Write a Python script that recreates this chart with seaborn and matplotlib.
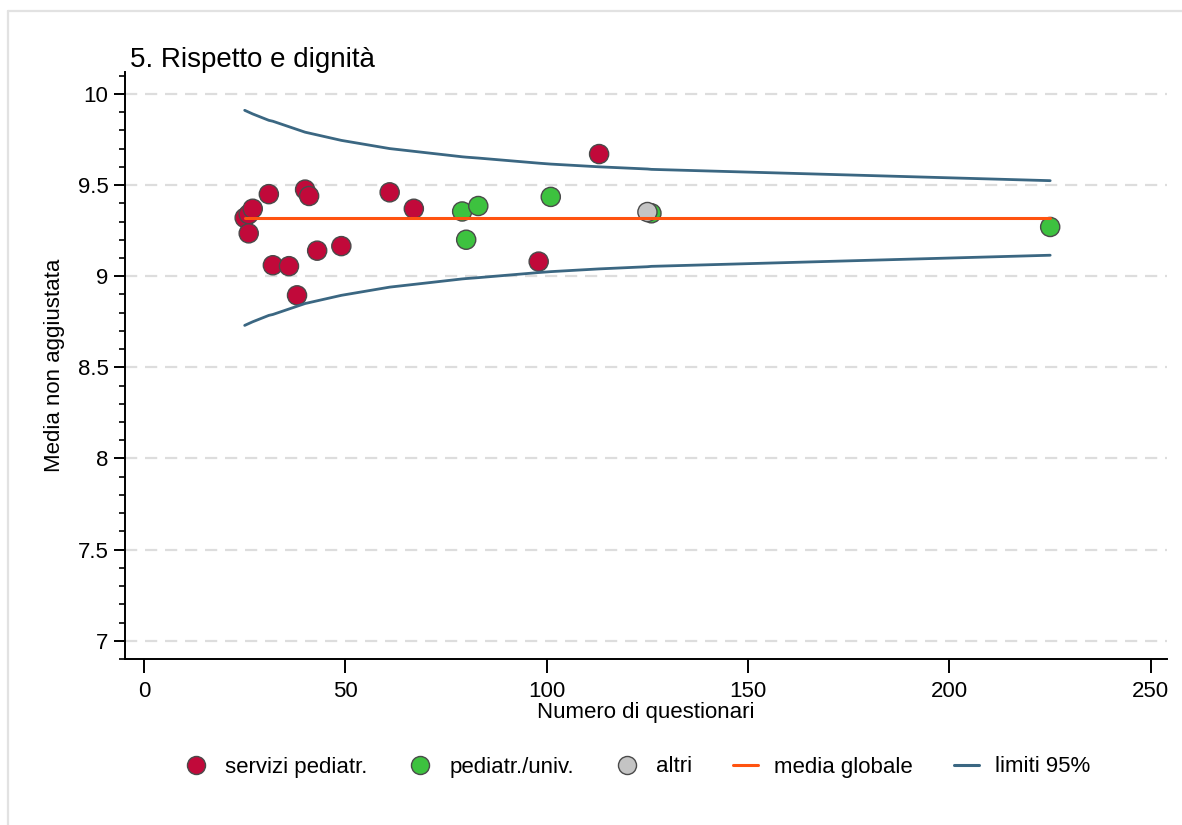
import matplotlib
matplotlib.use("Agg")
import matplotlib.pyplot as plt
from matplotlib.lines import Line2D
import numpy as np
import pandas as pd
import seaborn as sns

# --- data -----------------------------------------------------------------
servizi_n = [25, 26, 26, 27, 31, 32, 36, 38, 40, 41, 43, 49, 61, 67, 98, 113]
servizi_y = [9.32, 9.34, 9.235, 9.37, 9.45, 9.06, 9.055, 8.895, 9.475, 9.44,
             9.14, 9.165, 9.46, 9.37, 9.08, 9.67]
univ_n = [79, 80, 83, 101, 126, 225]
univ_y = [9.355, 9.20, 9.385, 9.435, 9.345, 9.27]
altri_n = [125]
altri_y = [9.352]

media_globale = 9.32

limiti_n = [25, 26, 27, 31, 32, 36, 38, 40, 41, 43, 49, 61, 67, 79, 80, 83,
            98, 101, 113, 125, 126, 225]
limite_sup = [9.91, 9.90, 9.89, 9.855, 9.85, 9.82, 9.805, 9.79, 9.785, 9.775,
              9.745, 9.70, 9.685, 9.655, 9.653, 9.648, 9.62, 9.615, 9.60,
              9.588, 9.586, 9.524]
limite_inf = [8.73, 8.74, 8.75, 8.785, 8.79, 8.82, 8.835, 8.85, 8.855, 8.865,
              8.895, 8.94, 8.955, 8.985, 8.987, 8.992, 9.02, 9.025, 9.04,
              9.052, 9.054, 9.115]

gruppi = ["servizi pediatr.", "pediatr./univ.", "altri"]
colori = {"servizi pediatr.": "#C1093A", "pediatr./univ.": "#3DC23F",
          "altri": "#C4C4C4"}
col_media = "#FF5310"
col_limiti = "#3B6782"

punti = pd.DataFrame({
    "n": servizi_n + univ_n + altri_n,
    "media": servizi_y + univ_y + altri_y,
    "gruppo": [gruppi[0]] * len(servizi_n) + [gruppi[1]] * len(univ_n)
              + [gruppi[2]] * len(altri_n),
})
limiti = pd.DataFrame({"n": limiti_n, "sup": limite_sup, "inf": limite_inf})
media = pd.DataFrame({"n": [min(limiti_n), max(limiti_n)],
                      "media": [media_globale, media_globale]})

# --- figure ---------------------------------------------------------------
sns.set_theme(style="white")
plt.rcParams["font.family"] = ["Liberation Sans", "DejaVu Sans"]
plt.rcParams["text.color"] = "black"
plt.rcParams["axes.labelcolor"] = "black"
plt.rcParams["xtick.color"] = "black"
plt.rcParams["ytick.color"] = "black"

fig = plt.figure(figsize=(11.82, 8.25), dpi=100)
fig.patch.set_facecolor("white")
ax = fig.add_axes([0.1058, 0.2012, 0.8815, 0.7115])

# light frame around the graph region
fig.add_artist(Line2D([8 / 1182, 1.0], [1 - 10.5 / 825] * 2,
                      transform=fig.transFigure, color="#E2E2E2", lw=1.6))
fig.add_artist(Line2D([8 / 1182] * 2, [0.0, 1 - 10.5 / 825],
                      transform=fig.transFigure, color="#E2E2E2", lw=1.6))

for yv in np.arange(7.0, 10.01, 0.5):
    ax.axhline(yv, color="#DDDDDD", lw=1.6, ls=(0, (5.5, 3.5)), zorder=0)

sns.scatterplot(data=punti, x="n", y="media", hue="gruppo",
                hue_order=gruppi, palette=colori, s=190,
                edgecolor="#4A4A4A", linewidth=1.0, legend=False,
                ax=ax, zorder=2)

sns.lineplot(data=limiti, x="n", y="sup", color=col_limiti, lw=2.0,
             ax=ax, zorder=3)
sns.lineplot(data=limiti, x="n", y="inf", color=col_limiti, lw=2.0,
             ax=ax, zorder=3)
sns.lineplot(data=media, x="n", y="media", color=col_media, lw=2.2,
             ax=ax, zorder=4)

ax.set_xlim(-4.7, 254)
ax.set_ylim(6.905, 10.12)
ax.set_xticks([0, 50, 100, 150, 200, 250])
ax.set_yticks([7, 7.5, 8, 8.5, 9, 9.5, 10])
ax.set_yticklabels(["7", "7.5", "8", "8.5", "9", "9.5", "10"])
ax.set_yticks(np.arange(6.9, 10.11, 0.1), minor=True)

for side in ["top", "right"]:
    ax.spines[side].set_visible(False)
for side in ["left", "bottom"]:
    ax.spines[side].set_color("black")
    ax.spines[side].set_linewidth(1.4)

ax.tick_params(axis="x", which="major", direction="out", length=10,
               width=1.4, color="black", labelcolor="black", labelsize=16,
               pad=6, bottom=True)
ax.tick_params(axis="y", which="major", direction="out", length=8,
               width=1.4, color="black", labelcolor="black", labelsize=16,
               pad=4, left=True)
ax.tick_params(axis="y", which="minor", direction="out", length=4.5,
               width=1.2, color="black", left=True)

ax.set_xlabel("Numero di questionari", fontsize=16, labelpad=0,
              color="black")
ax.set_ylabel("Media non aggiustata", fontsize=16, labelpad=9,
              color="black")

fig.text(130 / 1182, 1 - 60 / 825, "5. Rispetto e dignità", fontsize=20,
         ha="left", va="center", color="black")

handles = [
    Line2D([], [], ls="none", marker="o", markersize=13,
           markerfacecolor=colori[g], markeredgecolor="#4A4A4A",
           markeredgewidth=1.0) for g in gruppi
] + [
    Line2D([], [], color=col_media, lw=2.2),
    Line2D([], [], color=col_limiti, lw=2.2),
]
labels = gruppi + ["media globale", "limiti 95%"]
fig.legend(handles, labels, loc="center",
           bbox_to_anchor=(637 / 1182, 1 - 767 / 825),
           ncol=5, frameon=False, fontsize=16, handlelength=1.1,
           handletextpad=0.75, columnspacing=1.85, labelcolor="black")

fig.savefig("out.png", dpi=100, facecolor="white")
